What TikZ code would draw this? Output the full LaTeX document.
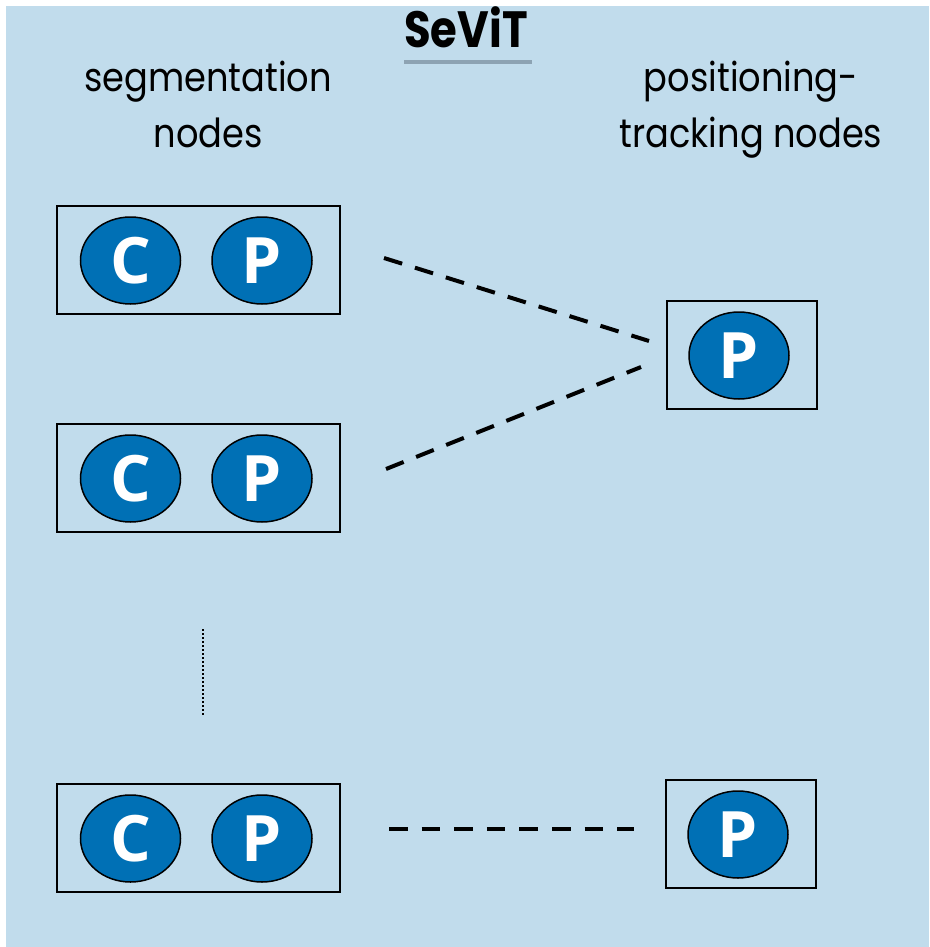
\documentclass[tikz,border=0pt]{standalone}
\usepackage{fontspec}
\setmainfont{Poppins}[FakeStretch=0.88]
\newfontfamily\titlefont{Poppins}[FakeStretch=0.85]
\newfontfamily\letterfont{Open Sans}
\usetikzlibrary{shapes.geometric,calc}

\definecolor{panel}{HTML}{C1DCEC}
\definecolor{nodeblue}{HTML}{0070B5}
\definecolor{rulegray}{HTML}{8DA3B3}

\begin{document}
\begin{tikzpicture}[x=1pt,y=-1pt,
  unitbox/.style={rectangle, draw=black, line width=2pt, inner sep=0pt,
    minimum width=283pt, minimum height=108pt},
  singlebox/.style={rectangle, draw=black, line width=2pt, inner sep=0pt,
    minimum width=150pt, minimum height=108pt},
  proc/.style={ellipse, draw=black, line width=1.5pt, fill=nodeblue, text=white,
    inner sep=0pt, minimum width=100pt, minimum height=87pt,
    font=\letterfont\bfseries\fontsize{64}{64}\selectfont},
  link/.style={line width=4pt, dash pattern=on 19pt off 13.4pt},
  hlink/.style={line width=4pt, dash pattern=on 18.5pt off 14.1pt},
  ellipsis/.style={line width=1.5pt, dash pattern=on 1.5pt off 2.5pt},
  heading/.style={align=center, anchor=base, inner sep=0pt,
    font=\fontsize{40}{55}\selectfont},
]
\useasboundingbox (0,0) rectangle (929,947);
\fill[panel] (6,6) rectangle (929,947);

% title with its rule
\node[anchor=base, inner sep=0pt, font=\titlefont\bfseries\fontsize{51}{51}\selectfont] (title) at (466,48) {SeViT};
\draw[rulegray, line width=4pt] ($(title.base west)+(0,14)$) -- ($(title.base east)+(4,14)$);

% column headings (base anchor sits on the last line)
\node[heading] (seghead) at (208,147) {segmentation\\nodes};
\node[heading] (poshead) at (751,147) {positioning-\\tracking nodes};

% segmentation nodes
\node[unitbox] (seg1) at (198.5,260) {};
\node[unitbox] (seg2) at (198.5,478) {};
\node[unitbox] (seg3) at (198.5,838) {};
\foreach \s in {seg1,seg2,seg3}{
  \node[proc] (\s c) at ($(\s)+(-68,0.5)$) {C};
  \node[proc] (\s p) at ($(\s)+(63.5,0.5)$) {P};
}

% positioning-tracking nodes
\node[singlebox] (pos1) at (742,355) {};
\node[singlebox] (pos3) at (741,834) {};
\node[proc] (pos1p) at ($(pos1)+(-3,0.5)$) {P};
\node[proc] (pos3p) at ($(pos3)+(-3,0.5)$) {P};

% connections
\coordinate (a1) at ($(seg1.east)+(43,-2)$);
\coordinate (b1) at ($(pos1.west)+(-17,-14)$);
\coordinate (a2) at ($(seg2.east)+(45,-9)$);
\coordinate (b2) at ($(pos1.west)+(-25,12)$);
\coordinate (a3) at ($(seg3.east)+(48,-9)$);
\coordinate (b3) at ($(pos3.west)+(-31,-5)$);
\draw[link] (a1) -- (b1);
\draw[link] (a2) -- (b2);
\draw[hlink] (a3) -- (b3);

% vertical ellipsis between the node groups
\coordinate (d1) at (203,629);
\coordinate (d2) at (203,715);
\draw[ellipsis] (d1) -- (d2);
\end{tikzpicture}
\end{document}
